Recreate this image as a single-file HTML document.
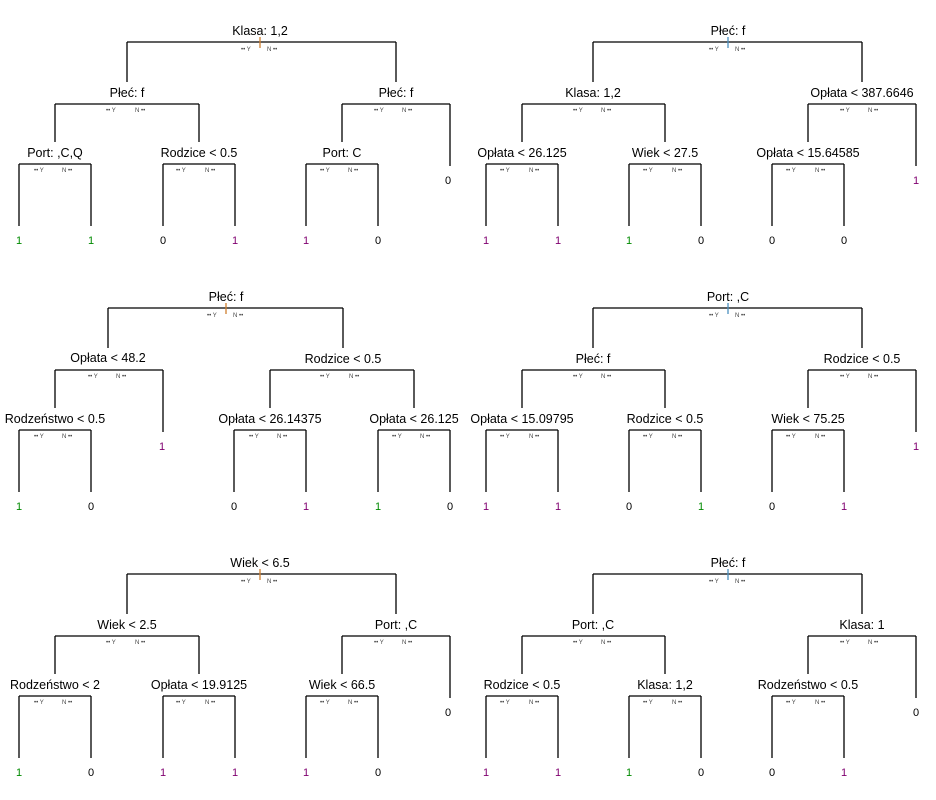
<!DOCTYPE html>
<html><head><meta charset="utf-8"><style>
html,body{margin:0;padding:0;background:#fff;}
svg{display:block;}
text{font-family:"Liberation Sans",Arial,sans-serif;}
.l{font-size:12.5px;text-anchor:middle;fill:#000;}
.s{font-size:6px;fill:#444;}
.f{font-size:11px;text-anchor:middle;}
text.g{fill:#008a00}text.p{fill:#800070}text.k{fill:#000}
line{stroke:#000;stroke-width:1.3;}
</style></head><body>
<svg width="936" height="800" viewBox="0 0 936 800">

<!-- ROW 1 LEFT -->
<g>
<text class="l" x="260" y="35">Klasa: 1,2</text>
<line x1="127" y1="42" x2="396" y2="42"/><line x1="260" y1="37" x2="260" y2="48" style="stroke:#d08030"/>
<text class="s" x="241" y="51">•• Y</text><text class="s" x="267" y="51">N ••</text>
<line x1="127" y1="42" x2="127" y2="82"/><line x1="396" y1="42" x2="396" y2="82"/>
<text class="l" x="127" y="97">Płeć: f</text>
<line x1="55" y1="104" x2="199" y2="104"/>
<text class="s" x="106" y="112">•• Y</text><text class="s" x="135" y="112">N ••</text>
<line x1="55" y1="104" x2="55" y2="142"/><line x1="199" y1="104" x2="199" y2="142"/>
<text class="l" x="55" y="157">Port: ,C,Q</text>
<line x1="19" y1="164" x2="91" y2="164"/>
<text class="s" x="34" y="172">•• Y</text><text class="s" x="62" y="172">N ••</text>
<line x1="19" y1="164" x2="19" y2="226"/><line x1="91" y1="164" x2="91" y2="226"/>
<text class="f g" x="19" y="244">1</text><text class="f g" x="91" y="244">1</text>
<text class="l" x="199" y="157">Rodzice &lt; 0.5</text>
<line x1="163" y1="164" x2="235" y2="164"/>
<text class="s" x="176" y="172">•• Y</text><text class="s" x="205" y="172">N ••</text>
<line x1="163" y1="164" x2="163" y2="226"/><line x1="235" y1="164" x2="235" y2="226"/>
<text class="f k" x="163" y="244">0</text><text class="f p" x="235" y="244">1</text>
<text class="l" x="396" y="97">Płeć: f</text>
<line x1="342" y1="104" x2="450" y2="104"/>
<text class="s" x="374" y="112">•• Y</text><text class="s" x="402" y="112">N ••</text>
<line x1="342" y1="104" x2="342" y2="142"/><line x1="450" y1="104" x2="450" y2="166"/>
<text class="f k" x="448" y="184">0</text>
<text class="l" x="342" y="157">Port: C</text>
<line x1="306" y1="164" x2="378" y2="164"/>
<text class="s" x="320" y="172">•• Y</text><text class="s" x="348" y="172">N ••</text>
<line x1="306" y1="164" x2="306" y2="226"/><line x1="378" y1="164" x2="378" y2="226"/>
<text class="f p" x="306" y="244">1</text><text class="f k" x="378" y="244">0</text>
</g>

<!-- ROW 1 RIGHT -->
<g>
<text class="l" x="728" y="35">Płeć: f</text>
<line x1="593" y1="42" x2="862" y2="42"/><line x1="728" y1="37" x2="728" y2="48" style="stroke:#4a90c0"/>
<text class="s" x="709" y="51">•• Y</text><text class="s" x="735" y="51">N ••</text>
<line x1="593" y1="42" x2="593" y2="82"/><line x1="862" y1="42" x2="862" y2="82"/>
<text class="l" x="593" y="97">Klasa: 1,2</text>
<line x1="522" y1="104" x2="665" y2="104"/>
<text class="s" x="573" y="112">•• Y</text><text class="s" x="601" y="112">N ••</text>
<line x1="522" y1="104" x2="522" y2="142"/><line x1="665" y1="104" x2="665" y2="142"/>
<text class="l" x="522" y="157">Opłata &lt; 26.125</text>
<line x1="486" y1="164" x2="558" y2="164"/>
<text class="s" x="500" y="172">•• Y</text><text class="s" x="529" y="172">N ••</text>
<line x1="486" y1="164" x2="486" y2="226"/><line x1="558" y1="164" x2="558" y2="226"/>
<text class="f p" x="486" y="244">1</text><text class="f p" x="558" y="244">1</text>
<text class="l" x="665" y="157">Wiek &lt; 27.5</text>
<line x1="629" y1="164" x2="701" y2="164"/>
<text class="s" x="643" y="172">•• Y</text><text class="s" x="672" y="172">N ••</text>
<line x1="629" y1="164" x2="629" y2="226"/><line x1="701" y1="164" x2="701" y2="226"/>
<text class="f g" x="629" y="244">1</text><text class="f k" x="701" y="244">0</text>
<text class="l" x="862" y="97">Opłata &lt; 387.6646</text>
<line x1="808" y1="104" x2="916" y2="104"/>
<text class="s" x="840" y="112">•• Y</text><text class="s" x="868" y="112">N ••</text>
<line x1="808" y1="104" x2="808" y2="142"/><line x1="916" y1="104" x2="916" y2="166"/>
<text class="f p" x="916" y="184">1</text>
<text class="l" x="808" y="157">Opłata &lt; 15.64585</text>
<line x1="772" y1="164" x2="844" y2="164"/>
<text class="s" x="786" y="172">•• Y</text><text class="s" x="815" y="172">N ••</text>
<line x1="772" y1="164" x2="772" y2="226"/><line x1="844" y1="164" x2="844" y2="226"/>
<text class="f k" x="772" y="244">0</text><text class="f k" x="844" y="244">0</text>
</g>

<!-- ROW 2 LEFT -->
<g transform="translate(0,266)">
<text class="l" x="226" y="35">Płeć: f</text>
<line x1="108" y1="42" x2="343" y2="42"/><line x1="226" y1="37" x2="226" y2="48" style="stroke:#d08030"/>
<text class="s" x="207" y="51">•• Y</text><text class="s" x="233" y="51">N ••</text>
<line x1="108" y1="42" x2="108" y2="82"/><line x1="343" y1="42" x2="343" y2="82"/>
<text class="l" x="108" y="96">Opłata &lt; 48.2</text>
<line x1="55" y1="104" x2="163" y2="104"/>
<text class="s" x="88" y="112">•• Y</text><text class="s" x="116" y="112">N ••</text>
<line x1="55" y1="104" x2="55" y2="142"/><line x1="163" y1="104" x2="163" y2="166"/>
<text class="f p" x="162" y="184">1</text>
<text class="l" x="55" y="157">Rodzeństwo &lt; 0.5</text>
<line x1="19" y1="164" x2="91" y2="164"/>
<text class="s" x="34" y="172">•• Y</text><text class="s" x="62" y="172">N ••</text>
<line x1="19" y1="164" x2="19" y2="226"/><line x1="91" y1="164" x2="91" y2="226"/>
<text class="f g" x="19" y="244">1</text><text class="f k" x="91" y="244">0</text>
<text class="l" x="343" y="97">Rodzice &lt; 0.5</text>
<line x1="270" y1="104" x2="414" y2="104"/>
<text class="s" x="320" y="112">•• Y</text><text class="s" x="349" y="112">N ••</text>
<line x1="270" y1="104" x2="270" y2="142"/><line x1="414" y1="104" x2="414" y2="142"/>
<text class="l" x="270" y="157">Opłata &lt; 26.14375</text>
<line x1="234" y1="164" x2="306" y2="164"/>
<text class="s" x="249" y="172">•• Y</text><text class="s" x="277" y="172">N ••</text>
<line x1="234" y1="164" x2="234" y2="226"/><line x1="306" y1="164" x2="306" y2="226"/>
<text class="f k" x="234" y="244">0</text><text class="f p" x="306" y="244">1</text>
<text class="l" x="414" y="157">Opłata &lt; 26.125</text>
<line x1="378" y1="164" x2="450" y2="164"/>
<text class="s" x="392" y="172">•• Y</text><text class="s" x="420" y="172">N ••</text>
<line x1="378" y1="164" x2="378" y2="226"/><line x1="450" y1="164" x2="450" y2="226"/>
<text class="f g" x="378" y="244">1</text><text class="f k" x="450" y="244">0</text>
</g>

<!-- ROW 2 RIGHT -->
<g transform="translate(0,266)">
<text class="l" x="728" y="35">Port: ,C</text>
<line x1="593" y1="42" x2="862" y2="42"/><line x1="728" y1="37" x2="728" y2="48" style="stroke:#4a90c0"/>
<text class="s" x="709" y="51">•• Y</text><text class="s" x="735" y="51">N ••</text>
<line x1="593" y1="42" x2="593" y2="82"/><line x1="862" y1="42" x2="862" y2="82"/>
<text class="l" x="593" y="97">Płeć: f</text>
<line x1="522" y1="104" x2="665" y2="104"/>
<text class="s" x="573" y="112">•• Y</text><text class="s" x="601" y="112">N ••</text>
<line x1="522" y1="104" x2="522" y2="142"/><line x1="665" y1="104" x2="665" y2="142"/>
<text class="l" x="522" y="157">Opłata &lt; 15.09795</text>
<line x1="486" y1="164" x2="558" y2="164"/>
<text class="s" x="500" y="172">•• Y</text><text class="s" x="529" y="172">N ••</text>
<line x1="486" y1="164" x2="486" y2="226"/><line x1="558" y1="164" x2="558" y2="226"/>
<text class="f p" x="486" y="244">1</text><text class="f p" x="558" y="244">1</text>
<text class="l" x="665" y="157">Rodzice &lt; 0.5</text>
<line x1="629" y1="164" x2="701" y2="164"/>
<text class="s" x="643" y="172">•• Y</text><text class="s" x="672" y="172">N ••</text>
<line x1="629" y1="164" x2="629" y2="226"/><line x1="701" y1="164" x2="701" y2="226"/>
<text class="f k" x="629" y="244">0</text><text class="f g" x="701" y="244">1</text>
<text class="l" x="862" y="97">Rodzice &lt; 0.5</text>
<line x1="808" y1="104" x2="916" y2="104"/>
<text class="s" x="840" y="112">•• Y</text><text class="s" x="868" y="112">N ••</text>
<line x1="808" y1="104" x2="808" y2="142"/><line x1="916" y1="104" x2="916" y2="166"/>
<text class="f p" x="916" y="184">1</text>
<text class="l" x="808" y="157">Wiek &lt; 75.25</text>
<line x1="772" y1="164" x2="844" y2="164"/>
<text class="s" x="786" y="172">•• Y</text><text class="s" x="815" y="172">N ••</text>
<line x1="772" y1="164" x2="772" y2="226"/><line x1="844" y1="164" x2="844" y2="226"/>
<text class="f k" x="772" y="244">0</text><text class="f p" x="844" y="244">1</text>
</g>

<!-- ROW 3 LEFT -->
<g transform="translate(0,532)">
<text class="l" x="260" y="35">Wiek &lt; 6.5</text>
<line x1="127" y1="42" x2="396" y2="42"/><line x1="260" y1="37" x2="260" y2="48" style="stroke:#d08030"/>
<text class="s" x="241" y="51">•• Y</text><text class="s" x="267" y="51">N ••</text>
<line x1="127" y1="42" x2="127" y2="82"/><line x1="396" y1="42" x2="396" y2="82"/>
<text class="l" x="127" y="97">Wiek &lt; 2.5</text>
<line x1="55" y1="104" x2="199" y2="104"/>
<text class="s" x="106" y="112">•• Y</text><text class="s" x="135" y="112">N ••</text>
<line x1="55" y1="104" x2="55" y2="142"/><line x1="199" y1="104" x2="199" y2="142"/>
<text class="l" x="55" y="157">Rodzeństwo &lt; 2</text>
<line x1="19" y1="164" x2="91" y2="164"/>
<text class="s" x="34" y="172">•• Y</text><text class="s" x="62" y="172">N ••</text>
<line x1="19" y1="164" x2="19" y2="226"/><line x1="91" y1="164" x2="91" y2="226"/>
<text class="f g" x="19" y="244">1</text><text class="f k" x="91" y="244">0</text>
<text class="l" x="199" y="157">Opłata &lt; 19.9125</text>
<line x1="163" y1="164" x2="235" y2="164"/>
<text class="s" x="176" y="172">•• Y</text><text class="s" x="205" y="172">N ••</text>
<line x1="163" y1="164" x2="163" y2="226"/><line x1="235" y1="164" x2="235" y2="226"/>
<text class="f p" x="163" y="244">1</text><text class="f p" x="235" y="244">1</text>
<text class="l" x="396" y="97">Port: ,C</text>
<line x1="342" y1="104" x2="450" y2="104"/>
<text class="s" x="374" y="112">•• Y</text><text class="s" x="402" y="112">N ••</text>
<line x1="342" y1="104" x2="342" y2="142"/><line x1="450" y1="104" x2="450" y2="166"/>
<text class="f k" x="448" y="184">0</text>
<text class="l" x="342" y="157">Wiek &lt; 66.5</text>
<line x1="306" y1="164" x2="378" y2="164"/>
<text class="s" x="320" y="172">•• Y</text><text class="s" x="348" y="172">N ••</text>
<line x1="306" y1="164" x2="306" y2="226"/><line x1="378" y1="164" x2="378" y2="226"/>
<text class="f p" x="306" y="244">1</text><text class="f k" x="378" y="244">0</text>
</g>

<!-- ROW 3 RIGHT -->
<g transform="translate(0,532)">
<text class="l" x="728" y="35">Płeć: f</text>
<line x1="593" y1="42" x2="862" y2="42"/><line x1="728" y1="37" x2="728" y2="48" style="stroke:#4a90c0"/>
<text class="s" x="709" y="51">•• Y</text><text class="s" x="735" y="51">N ••</text>
<line x1="593" y1="42" x2="593" y2="82"/><line x1="862" y1="42" x2="862" y2="82"/>
<text class="l" x="593" y="97">Port: ,C</text>
<line x1="522" y1="104" x2="665" y2="104"/>
<text class="s" x="573" y="112">•• Y</text><text class="s" x="601" y="112">N ••</text>
<line x1="522" y1="104" x2="522" y2="142"/><line x1="665" y1="104" x2="665" y2="142"/>
<text class="l" x="522" y="157">Rodzice &lt; 0.5</text>
<line x1="486" y1="164" x2="558" y2="164"/>
<text class="s" x="500" y="172">•• Y</text><text class="s" x="529" y="172">N ••</text>
<line x1="486" y1="164" x2="486" y2="226"/><line x1="558" y1="164" x2="558" y2="226"/>
<text class="f p" x="486" y="244">1</text><text class="f p" x="558" y="244">1</text>
<text class="l" x="665" y="157">Klasa: 1,2</text>
<line x1="629" y1="164" x2="701" y2="164"/>
<text class="s" x="643" y="172">•• Y</text><text class="s" x="672" y="172">N ••</text>
<line x1="629" y1="164" x2="629" y2="226"/><line x1="701" y1="164" x2="701" y2="226"/>
<text class="f g" x="629" y="244">1</text><text class="f k" x="701" y="244">0</text>
<text class="l" x="862" y="97">Klasa: 1</text>
<line x1="808" y1="104" x2="916" y2="104"/>
<text class="s" x="840" y="112">•• Y</text><text class="s" x="868" y="112">N ••</text>
<line x1="808" y1="104" x2="808" y2="142"/><line x1="916" y1="104" x2="916" y2="166"/>
<text class="f k" x="916" y="184">0</text>
<text class="l" x="808" y="157">Rodzeństwo &lt; 0.5</text>
<line x1="772" y1="164" x2="844" y2="164"/>
<text class="s" x="786" y="172">•• Y</text><text class="s" x="815" y="172">N ••</text>
<line x1="772" y1="164" x2="772" y2="226"/><line x1="844" y1="164" x2="844" y2="226"/>
<text class="f k" x="772" y="244">0</text><text class="f p" x="844" y="244">1</text>
</g>
</svg>
</body></html>
